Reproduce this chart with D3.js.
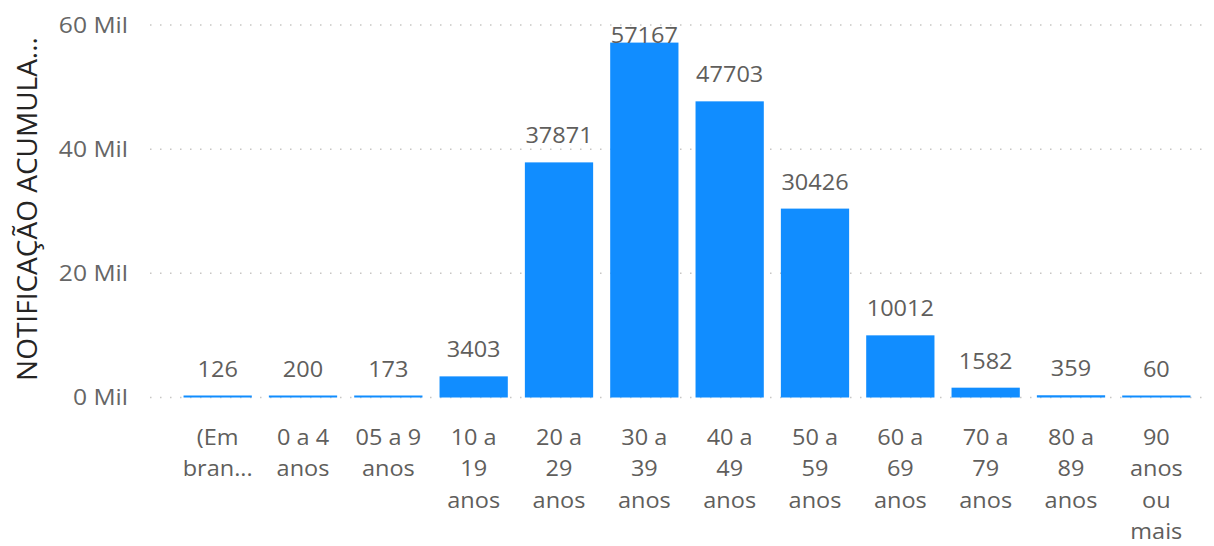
<!DOCTYPE html>
<html>
<head>
<meta charset="utf-8" />
<title>Notificação acumulada por faixa etária</title>
<style>
  body { margin: 0; background: #fff; }
  text { font-family: "Open Sans", "Noto Sans", sans-serif; }
  .grid line { stroke: #c8c6c4; stroke-width: 1.5px; stroke-dasharray: 1.5, 8.5; }
</style>
</head>
<body>
<svg id="chart" width="1214" height="546"></svg>
<script src="https://d3js.org/d3.v7.min.js"></script>
<script>
// data
var categories = ["(Em branco)", "0 a 4 anos", "05 a 9 anos", "10 a 19 anos", "20 a 29 anos", "30 a 39 anos",
                  "40 a 49 anos", "50 a 59 anos", "60 a 69 anos", "70 a 79 anos", "80 a 89 anos", "90 anos ou mais"];
var values = [126, 200, 173, 3403, 37871, 57167, 47703, 30426, 10012, 1582, 359, 60];
var yTicks = [0, 20000, 40000, 60000];
var yTickLabels = ["0 Mil", "20 Mil", "40 Mil", "60 Mil"];
var axisTitle = "NOTIFICAÇÃO ACUMULADA";

var svg = d3.select("#chart");
var sx = 1.12; // text is a bit wider than tall in the original

var x = d3.scaleBand().domain(categories).range([175, 1199]).paddingInner(0.2).paddingOuter(0.1);
var y = d3.scaleLinear().domain([0, 60000]).range([397.5, 25]);

// gridlines
svg.append("g").attr("class", "grid")
  .selectAll("line").data(yTicks).enter().append("line")
  .attr("x1", 150).attr("x2", 1206)
  .attr("y1", function(d) { return y(d); })
  .attr("y2", function(d) { return y(d); });

// y tick labels
svg.append("g").selectAll("text").data(yTicks).enter().append("text")
  .attr("transform", function(d) { return "translate(128," + (y(d) + 7.5) + ") scale(" + sx + ",1)"; })
  .attr("text-anchor", "end")
  .attr("fill", "#666666")
  .style("font-size", "22px")
  .text(function(d, i) { return yTickLabels[i]; });

// y axis title (truncated like the original)
var title = svg.append("text")
  .attr("transform", "translate(37,209) rotate(-90)")
  .attr("text-anchor", "middle")
  .attr("fill", "#252423")
  .style("font-size", "28px")
  .text(axisTitle);
var maxTitle = 356;
if (title.node().getComputedTextLength() > maxTitle) {
  var t = axisTitle;
  while (t.length > 1 && (title.text(t + "...").node().getComputedTextLength() > maxTitle)) t = t.slice(0, -1);
}

// bars
svg.append("g").selectAll("rect").data(values).enter().append("rect")
  .attr("x", function(d, i) { return x(categories[i]); })
  .attr("width", x.bandwidth())
  .attr("y", function(d) { return Math.min(y(d), y(0) - 2); })
  .attr("height", function(d) { return Math.max(y(0) - y(d), 2); })
  .attr("fill", "#118dff");

// value labels
svg.append("g").selectAll("text").data(values).enter().append("text")
  .attr("transform", function(d, i) {
    var ty = Math.max(Math.min(y(d), y(0) - 2) - 19, 43);
    return "translate(" + (x(categories[i]) + x.bandwidth() / 2) + "," + ty + ") scale(" + sx + ",1)";
  })
  .attr("text-anchor", "middle")
  .attr("fill", "#605e5c")
  .style("font-size", "21px")
  .text(function(d) { return d; });

// category labels, wrapped and truncated to the band
var maxW = 75 / sx;
var catG = svg.append("g");
categories.forEach(function(c) {
  var cx = x(c) + x.bandwidth() / 2;
  var probe = catG.append("text").style("font-size", "21px");
  var width = function(s) { return probe.text(s).node().getComputedTextLength(); };
  var words = c.split(" "), lines = [], cur = "";
  words.forEach(function(w) {
    var test = cur ? cur + " " + w : w;
    if (width(test) <= maxW) { cur = test; }
    else { if (cur) lines.push(cur); cur = w; }
  });
  if (cur) lines.push(cur);
  lines = lines.map(function(l) {
    if (width(l) <= maxW) return l;
    var s = l;
    while (s.length > 1 && width(s + "...") > maxW) s = s.slice(0, -1);
    return s + "...";
  });
  if (c.indexOf("(") === 0) lines = lines.slice(0, 2);
  probe.remove();
  lines.forEach(function(l, j) {
    catG.append("text")
      .attr("transform", "translate(" + cx + "," + (445 + j * 31.3) + ") scale(" + sx + ",1)")
      .attr("text-anchor", "middle")
      .attr("fill", "#605e5c")
      .style("font-size", "21px")
      .text(l);
  });
});
</script>
</body>
</html>
